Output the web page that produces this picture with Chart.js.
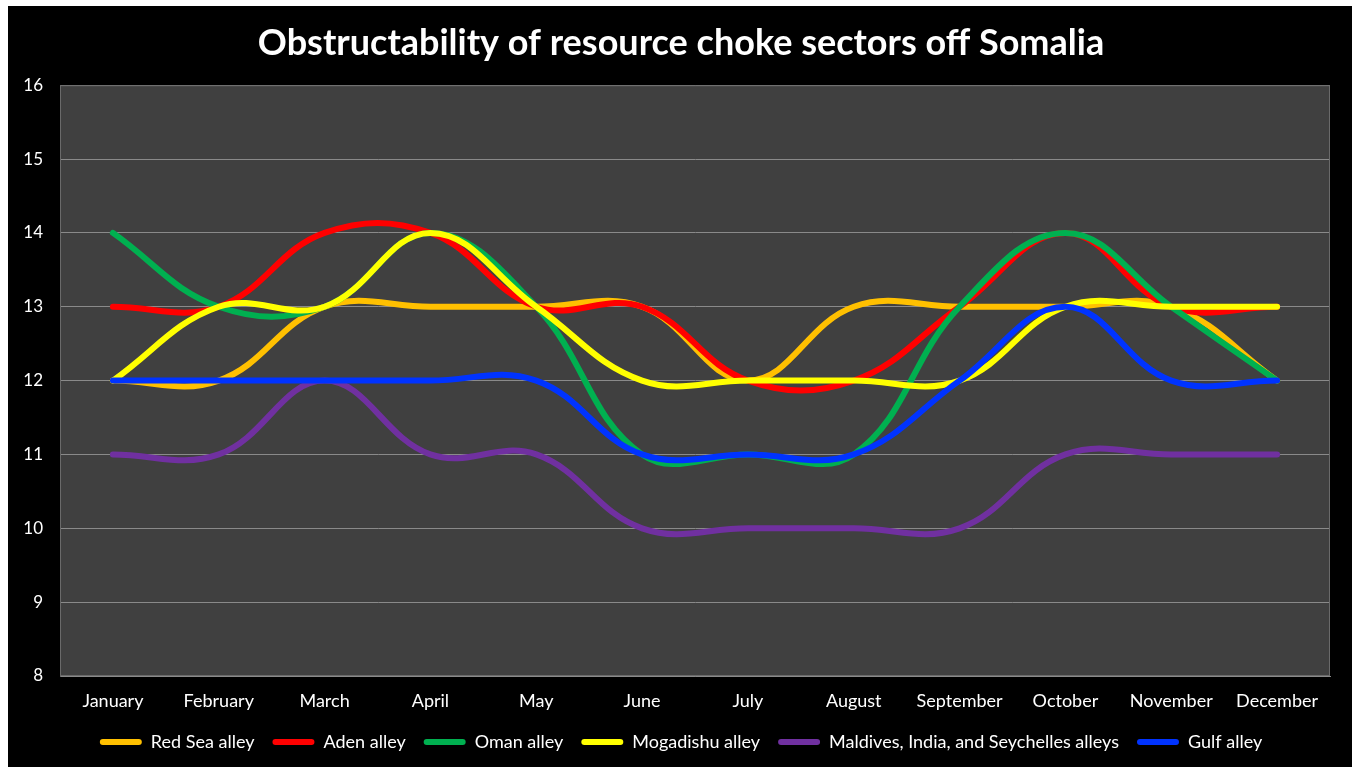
<!DOCTYPE html>
<html>
<head>
<meta charset="utf-8">
<script src="https://cdn.jsdelivr.net/npm/chart.js@4.4.1/dist/chart.umd.min.js"></script>
<style>
  html, body { margin: 0; padding: 0; background: #ffffff; width: 1352px; height: 767px; overflow: hidden; }
  #wrap { position: absolute; left: 8px; top: 6px; width: 1344px; height: 761px; background: #000000; }
  canvas { display: block; }
</style>
</head>
<body>
<div id="wrap"><canvas id="c"></canvas></div>
<script>
const months = ['January','February','March','April','May','June','July','August','September','October','November','December'];
const yTicks = [8, 9, 10, 11, 12, 13, 14, 15, 16];
const chartTitle = 'Obstructability of resource choke sectors off Somalia';

const seriesNames = ['Red Sea alley','Aden alley','Oman alley','Mogadishu alley','Maldives, India, and Seychelles alleys','Gulf alley'];
const redSea    = [12, 12, 13, 13, 13, 13, 12, 13, 13, 13, 13, 12];
const aden      = [13, 13, 14, 14, 13, 13, 12, 12, 13, 14, 13, 13];
const oman      = [14, 13, 13, 14, 13, 11, 11, 11, 13, 14, 13, 12];
const mogadishu = [12, 13, 13, 14, 13, 12, 12, 12, 12, 13, 13, 13];
const maldives  = [11, 11, 12, 11, 11, 10, 10, 10, 10, 11, 11, 11];
const gulf      = [12, 12, 12, 12, 12, 11, 11, 11, 12, 13, 12, 12];

const seriesValues = [redSea, aden, oman, mogadishu, maldives, gulf];
const seriesColors = ['#FFC000', '#FF0000', '#00B050', '#FFFF00', '#7030A0', '#0033FF'];

const FONT = "Lato, 'Open Sans', sans-serif";

const plotBg = {
  id: 'plotBg',
  afterLayout(chart) {
    // centre title and legend a little to the right, as in the original
    [chart.titleBlock, chart.legend].forEach(b => {
      if (b) { b.left += 12; b.right += 12; }
    });
  },
  beforeDraw(chart) {
    const { ctx, chartArea: a } = chart;
    ctx.save();
    ctx.fillStyle = '#404040';
    ctx.fillRect(a.left, a.top, a.right - a.left, a.bottom - a.top);
    ctx.restore();
  },
  afterDatasetsDraw(chart) {
    const { ctx, chartArea: a } = chart;
    ctx.save();
    ctx.strokeStyle = '#6a6a6a';
    ctx.lineWidth = 1;
    ctx.strokeRect(a.left + 0.5, a.top + 0.5, a.right - a.left - 1, a.bottom - a.top - 1);
    ctx.restore();
  }
};

const n = seriesNames.length;
const datasets = seriesNames.map((name, i) => ({
  label: name,
  data: seriesValues[i],
  borderColor: seriesColors[i],
  backgroundColor: seriesColors[i],
  borderWidth: 6,
  pointRadius: 0,
  pointHoverRadius: 0,
  tension: 0.4,
  fill: false,
  order: n - i,
  borderCapStyle: 'round',
  borderJoinStyle: 'round'
}));

new Chart(document.getElementById('c'), {
  type: 'line',
  data: { labels: months, datasets },
  plugins: [plotBg],
  options: {
    responsive: true,
    maintainAspectRatio: false,
    animation: false,
    layout: { padding: { left: 0, right: 22, top: 0, bottom: 6 } },
    plugins: {
      title: {
        display: true,
        text: chartTitle,
        color: '#ffffff',
        font: { family: FONT, size: 36, weight: 'bold' },
        padding: { top: 16, bottom: 20 }
      },
      legend: {
        display: true,
        position: 'bottom',
        labels: {
          color: '#ffffff',
          font: { family: FONT, size: 18 },
          boxWidth: 42,
          boxHeight: 6,
          useBorderRadius: true,
          borderRadius: 3,
          padding: 18,
          sort: (a, b) => a.datasetIndex - b.datasetIndex,
          generateLabels(chart) {
            const items = Chart.defaults.plugins.legend.labels.generateLabels(chart);
            items.forEach(it => { it.lineWidth = 0; it.strokeStyle = 'rgba(0,0,0,0)'; });
            return items;
          }
        }
      },
      tooltip: { enabled: false }
    },
    scales: {
      x: {
        type: 'category',
        offset: true,
        afterFit(scale) { scale.height = 39; },
        grid: { display: false, drawTicks: false },
        border: { display: true, color: '#8a8a8a', width: 1 },
        ticks: { color: '#ffffff', font: { family: FONT, size: 18 }, padding: 14, maxRotation: 0, autoSkip: false }
      },
      y: {
        min: 8,
        max: 16,
        afterBuildTicks(scale) { scale.ticks = yTicks.map(v => ({ value: v })); },
        afterFit(scale) { scale.width = 52; },
        grid: { color: '#8a8a8a', lineWidth: 1, drawTicks: false },
        border: { display: true, color: '#6a6a6a', width: 1 },
        ticks: { color: '#ffffff', font: { family: FONT, size: 17 }, padding: 17 }
      }
    }
  }
});
</script>
</body>
</html>
